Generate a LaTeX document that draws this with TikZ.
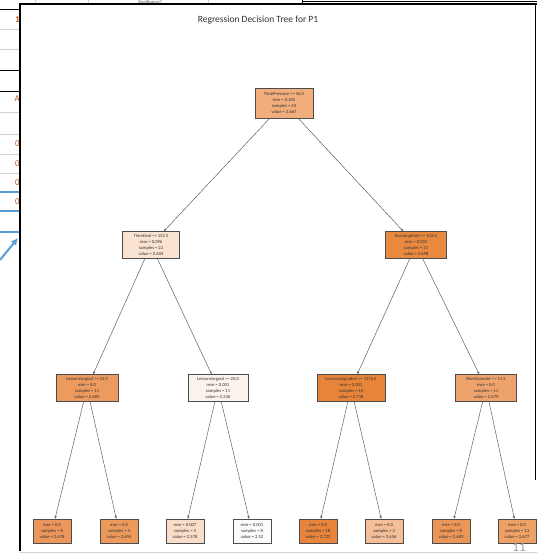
\documentclass[tikz,border=0pt]{standalone}
\usepackage{fontspec}
\setmainfont{Carlito}
\setsansfont{Carlito}
\usetikzlibrary{arrows.meta}
\definecolor{edgegray}{HTML}{555555}
\definecolor{cRoot}{HTML}{F1AD7B}
\definecolor{cLL}{HTML}{FAE3D1}
\definecolor{cLR}{HTML}{E9883F}
\definecolor{cA}{HTML}{EC9A5E}
\definecolor{cB}{HTML}{FCF3EC}
\definecolor{cC}{HTML}{E8843A}
\definecolor{cD}{HTML}{EEA36C}
\definecolor{fA}{HTML}{EB965A}
\definecolor{fB}{HTML}{EC9A5C}
\definecolor{fC}{HTML}{F9DDC8}
\definecolor{fD}{HTML}{FDFBF9}
\definecolor{fE}{HTML}{E8843B}
\definecolor{fF}{HTML}{F4BE98}
\definecolor{fG}{HTML}{EC9558}
\definecolor{fH}{HTML}{EEA065}
\definecolor{xlblue}{HTML}{5B9BD5}
\definecolor{xlorange}{HTML}{C55A11}
\definecolor{gridgray}{HTML}{D0D0D0}
\tikzset{
  treenode/.style={draw=black!70, line width=0.45pt, align=center, inner sep=1.5pt,
    font=\fontsize{4.6}{5.8}\selectfont, text=black!80},
  innerbox/.style={treenode, minimum width=57pt, minimum height=27pt},
  leafbox/.style={treenode, minimum width=38pt, minimum height=24pt},
  treeedge/.style={draw=edgegray, line width=0.45pt, -{Stealth[length=3pt,width=2.2pt]}},
  gridline/.style={draw=gridgray, line width=0.8pt},
  blackline/.style={draw=black, line width=1pt},
  blueline/.style={draw=xlblue, line width=1.4pt},
  cellnum/.style={font=\fontsize{9}{9}\selectfont, text=xlorange, inner sep=0pt}
}
\begin{document}
\begin{tikzpicture}[x=1pt,y=-1pt]
\useasboundingbox (0,0) rectangle (537,554);
\fill[white] (0,0) rectangle (537,554);
% background spreadsheet
\draw[gridline] (0,29) -- (20,29);
\draw[gridline] (0,49) -- (20,49);
\draw[blackline] (0,9) -- (20,9);
\draw[blackline] (0,70) -- (20,70);
\draw[blackline] (0,91) -- (20,91);
\draw[gridline] (0,112) -- (20,112);
\draw[gridline] (0,134) -- (20,134);
\draw[gridline] (0,154) -- (20,154);
\draw[gridline] (0,173) -- (20,173);
\draw[blueline] (0,192) -- (20,192);
\draw[blueline] (0,211) -- (20,211);
\draw[blueline] (0,232) -- (20,232);
\draw[gridline] (35,0) -- (35,4);
\draw[gridline] (88,0) -- (88,4);
\draw[gridline] (208,0) -- (208,4);
\draw[blackline] (302,0) -- (302,4);
\node[font=\itshape\fontsize{4.5}{4.5}\selectfont, text=black!70, anchor=north, inner sep=0.2pt] (sig) at (150,0) {Significance?};
\node[cellnum, font=\bfseries\fontsize{9}{9}\selectfont, anchor=east] (one) at (20,20) {1};
\node[cellnum, anchor=east] (cA) at (20,99) {A};
\node[cellnum, anchor=east] (z1) at (20,144) {0};
\node[cellnum, anchor=east] (z2) at (20,164) {0};
\node[cellnum, anchor=east] (z3) at (20,183) {0};
\node[cellnum, anchor=east] (z4) at (20,202) {0};
\coordinate (arrS) at (0,260);
\coordinate (arrE) at (18,238);
\draw[xlblue, line width=2pt, -{Latex[length=7pt,width=7pt]}] (arrS) -- (arrE);
% window
\fill[white] (20,4) rectangle (537,551);
\draw[black, line width=1.6pt] (20,551) -- (20,4) -- (537,4);
\draw[black, line width=0.8pt] (302,1) -- (537,1);
\draw[black, line width=1pt] (535,4) -- (535,480);
\draw[gridgray, line width=1.2pt] (20,552.5) -- (537,552.5);
\node[font=\fontsize{9.5}{9.5}\selectfont, text=black!80] (title) at (258,20) {Regression Decision Tree for P1};
% tree
\node[innerbox, fill=cRoot, minimum width=58pt, minimum height=30pt] (root) at (284,103)
  {TimePressure <= 56.0\\mse = 0.105\\samples = 43\\value = 2.667};
\node[innerbox, fill=cLL] (nl) at (151,245)
  {TimeDeal <= 132.5\\mse = 0.096\\samples = 22\\value = 2.604};
\node[innerbox, fill=cLR, minimum width=61pt] (nr) at (416,245)
  {knowingHold <= 102.0\\mse = 0.031\\samples = 21\\value = 2.698};
\node[innerbox, fill=cA, minimum width=62pt] (na) at (87,388)
  {LessonsLegrad <= 10.5\\mse = 0.0\\samples = 11\\value = 2.683};
\node[innerbox, fill=cB, minimum width=60pt] (nb) at (218,388)
  {LessonsLegrad <= 20.0\\mse = 0.001\\samples = 11\\value = 2.536};
\node[innerbox, fill=cC, minimum width=68pt] (nc) at (351,388)
  {LessonsLegraded <= 1376.0\\mse = 0.001\\samples = 10\\value = 2.718};
\node[innerbox, fill=cD, minimum width=61pt] (nd) at (486,388)
  {Wordsonuter <= 11.5\\mse = 0.0\\samples = 11\\value = 2.679};
\node[leafbox, fill=fA] (la) at (52,531) {mse = 0.0\\samples = 8\\value = 2.678};
\node[leafbox, fill=fB] (lb) at (119,531) {mse = 0.0\\samples = 3\\value = 2.694};
\node[leafbox, fill=fC] (lc) at (185,531) {mse = 0.007\\samples = 3\\value = 2.578};
\node[leafbox, fill=fD] (ld) at (252,531) {mse = 0.001\\samples = 8\\value = 2.52};
\node[leafbox, fill=fE] (le) at (318,531) {mse = 0.0\\samples = 18\\value = 2.723};
\node[leafbox, fill=fF] (lf) at (384,531) {mse = 0.0\\samples = 2\\value = 2.656};
\node[leafbox, fill=fG] (lg) at (451,531) {mse = 0.0\\samples = 8\\value = 2.683};
\node[leafbox, fill=fH] (lh) at (517,531) {mse = 0.0\\samples = 13\\value = 2.677};
\draw[treeedge] (root) -- (nl);
\draw[treeedge] (root) -- (nr);
\draw[treeedge] (nl) -- (na);
\draw[treeedge] (nl) -- (nb);
\draw[treeedge] (nr) -- (nc);
\draw[treeedge] (nr) -- (nd);
\draw[treeedge] (na) -- (la);
\draw[treeedge] (na) -- (lb);
\draw[treeedge] (nb) -- (lc);
\draw[treeedge] (nb) -- (ld);
\draw[treeedge] (nc) -- (le);
\draw[treeedge] (nc) -- (lf);
\draw[treeedge] (nd) -- (lg);
\draw[treeedge] (nd) -- (lh);
\node[font=\fontsize{13}{13}\selectfont, text=black!40, anchor=base, inner sep=0.5pt] (pagenum) at (519,551) {11};
\end{tikzpicture}
\end{document}
